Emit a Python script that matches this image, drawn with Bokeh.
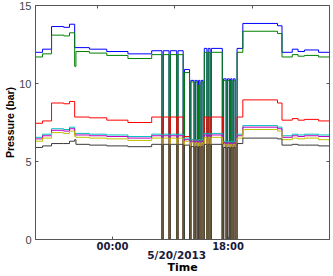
from bokeh.plotting import figure
from bokeh.models import LinearAxis, FixedTicker, Range1d, Title
from bokeh.embed import file_html
from bokeh.resources import INLINE

# hours since 5/19/2013 12:00
times = [0.0, 1.1, 2.5, 4.4, 5.3, 6.1, 6.3, 8.4, 11.1, 14.4,
         18.1, 19.7, 19.9, 20.8, 21.0, 22.0, 22.2, 23.0, 23.2, 24.0,
         24.2, 24.7, 24.9, 25.2, 25.4, 25.6, 25.8, 26.1, 26.3, 26.7,
         26.9, 27.2, 27.4, 29.1, 29.3, 29.7, 29.9, 30.2, 30.4, 30.6,
         30.8, 31.1, 31.4, 32.3, 37.7, 38.4, 40.0, 40.9, 41.9, 44.1, 45.8]

blue = [12.0, 12.2, 13.65, 13.6, 13.8, 12.3, 12.3, 12.2, 12.05, 11.9,
        12.1, 0, 12.1, 0, 12.1, 0, 12.1, 0, 10.9, 0,
        10.2, 0, 10.2, 0, 10.2, 0, 10.2, 0, 12.25, 0,
        12.25, 0, 12.25, 0, 10.3, 0, 10.3, 0, 10.3, 0,
        10.3, 0, 12.25, 13.85, 13.7, 12.0, 12.2, 12.05, 12.15, 12.0, 12.0]

green = [11.7, 11.9, 13.1, 13.05, 13.25, 11.1, 12.05, 11.95, 11.8, 11.6,
         11.85, 0, 11.85, 0, 11.85, 0, 11.85, 0, 10.7, 0,
         10.1, 0, 10.1, 0, 9.9, 0, 10.1, 0, 12.0, 0,
         12.0, 0, 12.0, 0, 10.2, 0, 10.2, 0, 10.2, 0,
         10.2, 0, 12.0, 13.35, 13.2, 11.7, 11.85, 11.75, 11.8, 11.7, 11.7]

red = [7.45, 7.6, 8.75, 8.7, 8.85, 7.85, 7.85, 7.8, 7.65, 7.5,
       7.85, 0, 7.85, 0, 7.85, 0, 7.85, 0, 6.6, 0,
       6.4, 0, 6.4, 0, 6.4, 0, 6.4, 0, 7.85, 0,
       7.85, 0, 7.85, 0, 6.2, 0, 6.2, 0, 6.2, 0,
       6.2, 0, 7.85, 8.95, 8.75, 7.65, 7.75, 7.65, 7.7, 7.6, 7.6]

cyan = [6.55, 6.75, 7.1, 7.05, 7.2, 6.8, 6.8, 6.75, 6.7, 6.6,
        6.75, 0, 6.75, 0, 6.75, 0, 6.75, 0, 6.5, 0,
        6.4, 0, 6.4, 0, 6.4, 0, 6.4, 0, 6.8, 0,
        6.8, 0, 6.8, 0, 6.3, 0, 6.3, 0, 6.3, 0,
        6.3, 0, 6.75, 7.3, 7.2, 6.65, 6.75, 6.7, 6.75, 6.7, 6.7]

magenta = [6.45, 6.65, 7.0, 6.95, 7.1, 6.7, 6.7, 6.65, 6.6, 6.5,
           6.65, 0, 6.65, 0, 6.65, 0, 6.65, 0, 6.4, 0,
           6.3, 0, 6.3, 0, 6.3, 0, 6.3, 0, 6.7, 0,
           6.7, 0, 6.7, 0, 6.2, 0, 6.2, 0, 6.2, 0,
           6.2, 0, 6.65, 7.2, 7.1, 6.55, 6.65, 6.6, 6.65, 6.6, 6.6]

yellow = [6.3, 6.5, 6.85, 6.8, 6.95, 6.6, 6.55, 6.5, 6.45, 6.35,
          6.5, 0, 6.5, 0, 6.5, 0, 6.5, 0, 6.3, 0,
          6.2, 0, 6.2, 0, 6.2, 0, 6.2, 0, 6.55, 0,
          6.55, 0, 6.55, 0, 6.1, 0, 6.1, 0, 6.1, 0,
          6.1, 0, 6.5, 7.05, 6.95, 6.4, 6.5, 6.45, 6.5, 6.4, 6.4]

black = [5.9, 6.0, 6.15, 6.15, 6.3, 6.4, 6.1, 6.05, 6.0, 5.95,
         6.1, 0, 6.1, 0, 6.1, 0, 6.1, 0, 6.05, 0,
         5.95, 0, 5.95, 0, 5.95, 0, 5.95, 0, 6.1, 0,
         6.1, 0, 6.1, 0, 5.9, 0, 5.9, 0, 5.9, 0,
         5.9, 0, 6.15, 6.5, 6.45, 6.05, 6.1, 6.05, 6.05, 6.0, 6.0]

series = [blue, green, red, cyan, magenta, yellow, black]
colors = ["#0000ff", "#008000", "#ff0000", "#00bfbf", "#bf00bf", "#bfbf00", "#3a3a3a"]

x_ticks = [12, 30]
x_tick_labels = {12: "00:00", 30: "18:00"}
top_ticks = [9.7, 21.7, 33.75]
y_ticks = [0, 5, 10, 15]
right_ticks = [5, 10]
date_pos = 22.0
date_text = "5/20/2013"

axis_col = "#555555"
lab_col = "#1a1a3a"

p = figure(width=333, height=276, output_backend="svg", toolbar_location=None,
           x_range=Range1d(0, 45.8), y_range=Range1d(0, 15),
           min_border_left=2, min_border_right=4, min_border_top=5, min_border_bottom=0)
p.xgrid.visible = False
p.ygrid.visible = False
p.outline_line_color = axis_col
p.background_fill_color = "white"
p.border_fill_color = "white"

for vals, c in zip(series, colors):
    p.step(times, vals, mode="after", line_color=c, line_width=1.0)

xa = p.xaxis[0]
xa.ticker = FixedTicker(ticks=x_ticks)
xa.major_label_overrides = x_tick_labels
xa.major_tick_in = 3
xa.major_tick_out = 0
xa.minor_tick_line_color = None
xa.axis_line_color = axis_col
xa.major_tick_line_color = axis_col
xa.major_label_standoff = 1
xa.major_label_text_font = "DejaVu Sans"
xa.major_label_text_font_style = "bold"
xa.major_label_text_font_size = "10px"
xa.major_label_text_color = lab_col

# second row below: the date and the axis title
xd = LinearAxis(ticker=FixedTicker(ticks=[date_pos]),
                major_label_overrides={date_pos: date_text},
                major_tick_line_color=None, minor_tick_line_color=None,
                axis_line_color=None, major_tick_in=0, major_tick_out=0,
                major_label_standoff=-6,
                major_label_text_font="DejaVu Sans", major_label_text_font_style="bold",
                major_label_text_font_size="10.5px", major_label_text_color=lab_col,
                axis_label="Time", axis_label_standoff=-3,
                axis_label_text_font="DejaVu Sans", axis_label_text_font_style="bold",
                axis_label_text_font_size="11px", axis_label_text_color="black")
p.add_layout(xd, "below")

ya = p.yaxis[0]
ya.ticker = FixedTicker(ticks=y_ticks)
ya.major_tick_in = 3
ya.major_tick_out = 0
ya.minor_tick_line_color = None
ya.axis_line_color = axis_col
ya.major_tick_line_color = axis_col
ya.major_label_standoff = 4
ya.major_label_text_font = "Liberation Sans"
ya.major_label_text_font_size = "11px"
ya.major_label_text_color = "#444444"

ytitle = Title(text="Pressure (bar)", align="center", offset=10, standoff=2,
               text_font="Liberation Sans", text_font_style="bold",
               text_font_size="10.5px", text_color="black")
p.add_layout(ytitle, "left")

top = LinearAxis(ticker=FixedTicker(ticks=[], minor_ticks=top_ticks),
                 major_tick_line_color=None, minor_tick_in=3, minor_tick_out=0,
                 minor_tick_line_color=axis_col, axis_line_color=axis_col)
p.add_layout(top, "above")
right = LinearAxis(ticker=FixedTicker(ticks=[], minor_ticks=right_ticks),
                   major_tick_line_color=None, minor_tick_in=3, minor_tick_out=0,
                   minor_tick_line_color=axis_col, axis_line_color=axis_col)
p.add_layout(right, "right")

open("out.html", "w").write(file_html(p, INLINE))
